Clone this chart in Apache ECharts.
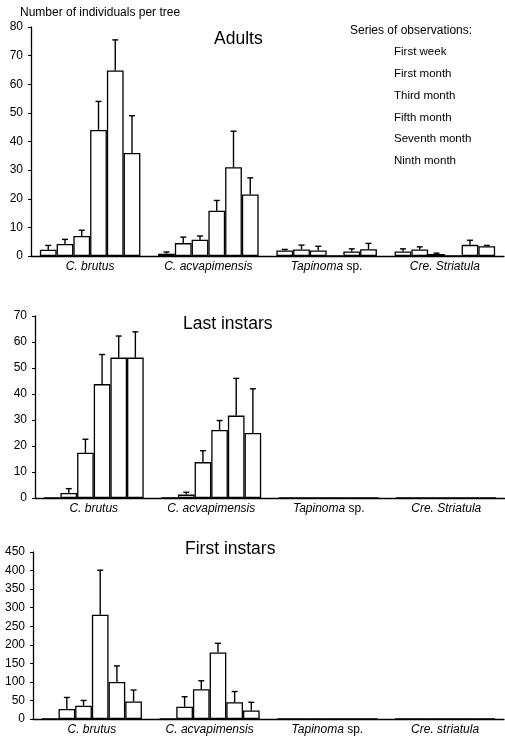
<!DOCTYPE html>
<html>
<head>
<meta charset="UTF-8">
<title>Individuals per tree</title>
<script src="https://cdn.jsdelivr.net/npm/echarts@6/dist/echarts.min.js"></script>
<style>
html,body{margin:0;padding:0;background:#fff;}
#main{width:505px;height:743px;}
</style>
</head>
<body>
<div id="main"></div>
<script>
// series of observations
var seriesNames = ['First week', 'First month', 'Third month', 'Fifth month', 'Seventh month', 'Ninth month'];
var species = ['C. brutus', 'C. acvapimensis', 'Tapinoma sp.', 'Cre. Striatula'];
var speciesFirst = ['C. brutus', 'C. acvapimensis', 'Tapinoma sp.', 'Cre. striatula'];

// one row per series, one value per species
var adultsMean = [
  [2.2, 0.8, 1.9, 1.6],
  [4.2, 4.5, 2.3, 2.3],
  [7.0, 5.7, 1.9, 0.7],
  [44, 15.8, 0, 0],
  [64.8, 31, 1.6, 3.9],
  [36, 21.5, 2.4, 3.4]
];
var adultsErr = [
  [1.5, 0.6, 0.4, 0.9],
  [1.6, 2.1, 1.5, 0.9],
  [2.0, 1.3, 1.5, 0.3],
  [10, 3.6, 0, 0],
  [10.7, 12.6, 0.9, 1.6],
  [13, 5.8, 2.0, 0.3]
];
var lastMean = [
  [0, 0, 0, 0],
  [1.9, 1.3, 0, 0],
  [17.4, 13.8, 0, 0],
  [43.8, 26.2, 0, 0],
  [54, 31.7, 0, 0],
  [54, 25, 0, 0]
];
var lastErr = [
  [0, 0, 0, 0],
  [1.7, 0.9, 0, 0],
  [5.2, 4.4, 0, 0],
  [11.4, 3.6, 0, 0],
  [8.3, 14.3, 0, 0],
  [9.9, 17, 0, 0]
];
var firstMean = [
  [0, 0, 0, 0],
  [27, 33, 0, 0],
  [36, 80, 0, 0],
  [281, 179, 0, 0],
  [100, 45, 0, 0],
  [47, 23, 0, 0]
];
var firstErr = [
  [0, 0, 0, 0],
  [31, 27, 0, 0],
  [14, 23, 0, 0],
  [120, 25, 0, 0],
  [43, 29, 0, 0],
  [31, 22, 0, 0]
];

var font = '"Liberation Sans", Arial, sans-serif';
var gapRatio = 0.15;

var panels = [
  {name: 'Adults', cats: species, mean: adultsMean, err: adultsErr, max: 80, step: 10,
   grid: {left: 31, right: 1, top: 27, height: 229}, title: {left: 214, top: 30}},
  {name: 'Last instars', cats: species, mean: lastMean, err: lastErr, max: 70, step: 10,
   grid: {left: 35, right: 0, top: 316, height: 182}, title: {left: 183, top: 315}},
  {name: 'First instars', cats: speciesFirst, mean: firstMean, err: firstErr, max: 450, step: 50,
   grid: {left: 33, right: 1, top: 552, height: 167}, title: {left: 185, top: 540}}
];

function labelFmt(v) {
  if (v.indexOf(' sp.') > 0) return '{i|' + v.replace(' sp.', '') + '} sp.';
  return '{i|' + v + '}';
}

function errRender(s) {
  return function (params, api) {
    var e = api.value(2);
    if (!(e > 0)) return null;
    var c = api.value(0), m = api.value(1);
    var band = api.size([1, 0])[0];
    var bw = band * (1 - gapRatio) / seriesNames.length;
    var p0 = api.coord([c, m]);
    var p1 = api.coord([c, m + e]);
    var x = p0[0] + (s - (seriesNames.length - 1) / 2) * bw;
    var st = {stroke: '#000', lineWidth: 1.4};
    return {type: 'group', children: [
      {type: 'line', shape: {x1: x, y1: p0[1], x2: x, y2: p1[1]}, style: st},
      {type: 'line', shape: {x1: x - 3, y1: p1[1], x2: x + 3, y2: p1[1]}, style: st}
    ]};
  };
}

var grids = [], xAxes = [], yAxes = [], series = [];
var titles = [
  {text: 'Number of individuals per tree', left: 20, top: 7, padding: 0,
   textStyle: {fontSize: 12, fontWeight: 'normal', color: '#000', fontFamily: font}},
  {text: 'Series of observations:', left: 350, top: 25, padding: 0,
   textStyle: {fontSize: 12, fontWeight: 'normal', color: '#000', fontFamily: font}}
];

panels.forEach(function (p, g) {
  grids.push(p.grid);
  titles.push({text: p.name, left: p.title.left, top: p.title.top, padding: 0,
    textStyle: {fontSize: 17.5, fontWeight: 'normal', color: '#000', fontFamily: font}});
  xAxes.push({
    type: 'category', gridIndex: g, data: p.cats,
    axisLine: {lineStyle: {color: '#000', width: 1.3}},
    axisTick: {show: false},
    axisLabel: {interval: 0, margin: 5, color: '#000', fontSize: 12, fontFamily: font,
      formatter: labelFmt,
      rich: {i: {fontStyle: 'italic', fontSize: 12, color: '#000', fontFamily: font}}}
  });
  yAxes.push({
    type: 'value', gridIndex: g, min: 0, max: p.max, interval: p.step,
    axisLine: {show: true, lineStyle: {color: '#000', width: 1.3}},
    axisTick: {show: true, length: 3, lineStyle: {color: '#000'}},
    splitLine: {show: false},
    axisLabel: {color: '#000', fontSize: 12, margin: 8, fontFamily: font}
  });
  seriesNames.forEach(function (nm, s) {
    series.push({
      name: nm, type: 'bar', xAxisIndex: g, yAxisIndex: g,
      data: p.mean[s], barGap: '0%', barCategoryGap: (gapRatio * 100) + '%',
      itemStyle: {color: '#fff', borderColor: '#000', borderWidth: 1.3},
      emphasis: {disabled: true}
    });
  });
  seriesNames.forEach(function (nm, s) {
    series.push({
      type: 'custom', xAxisIndex: g, yAxisIndex: g, z: 5,
      renderItem: errRender(s),
      data: p.cats.map(function (c, i) { return [i, p.mean[s][i], p.err[s][i]]; })
    });
  });
});

var chart = echarts.init(document.getElementById('main'));
chart.setOption({
  animation: false,
  backgroundColor: '#fff',
  title: titles,
  legend: {
    data: seriesNames, orient: 'vertical', left: 389, top: 45, padding: 0,
    itemWidth: 0, itemHeight: 14, itemGap: 7.8, selectedMode: false,
    itemStyle: {color: 'transparent', borderWidth: 0, opacity: 0},
    textStyle: {fontSize: 11.5, color: '#000', fontFamily: font}
  },
  grid: grids,
  xAxis: xAxes,
  yAxis: yAxes,
  series: series
});
</script>
</body>
</html>
